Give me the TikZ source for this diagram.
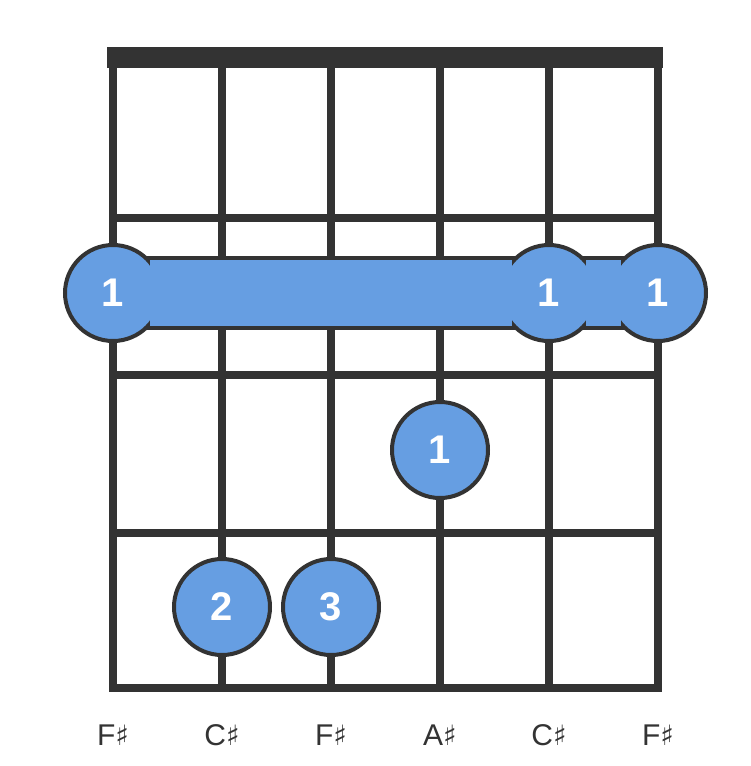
\documentclass[tikz,border=0pt]{standalone}
\usepackage{fontspec}
\setmainfont{Liberation Sans}
\newfontfamily\symf{DejaVu Sans}
\definecolor{ink}{HTML}{333333}
\definecolor{dot}{HTML}{669EE2}
\begin{document}
\begin{tikzpicture}[x=1pt,y=-1pt,
  grid/.style={draw=ink,line width=8pt},
  finger/.style={circle,draw=ink,fill=dot,line width=4pt,minimum size=96pt,inner sep=0pt,text=white,font=\bfseries\fontsize{40}{40}\selectfont},
  lab/.style={text=ink,font=\fontsize{30}{30}\selectfont}]
\useasboundingbox (0,0) rectangle (750,766);
\foreach \x in {113,222,331,440,549,658} \draw[grid] (\x,55) -- (\x,692);
\foreach \y in {218,375,533} \draw[grid] (109,\y) -- (662,\y);
\draw[grid] (109,688) -- (662,688);
\fill[ink] (107,47) rectangle (663,68);
\draw[ink,line width=4pt,fill=dot] (113,258) rectangle (658,328);
\node[finger] (b1) at (113,293) {1};
\node[finger] (b5) at (549,293) {1};
\node[finger] (b6) at (658,293) {1};
\fill[dot] (150,260) rectangle (512,326);
\fill[dot] (586,260) rectangle (621,326);
\node[finger] (f4) at (440,450) {1};
\node[finger] (f2) at (222,607) {2};
\node[finger] (f3) at (331,607) {3};
\foreach \x/\n [count=\i] in {113/F,222/C,331/F,440/A,549/C,658/F}
  \node[lab] (l\i) at (\x,735) {\n{\symf\fontsize{28}{28}\selectfont ♯}};
\end{tikzpicture}
\end{document}
